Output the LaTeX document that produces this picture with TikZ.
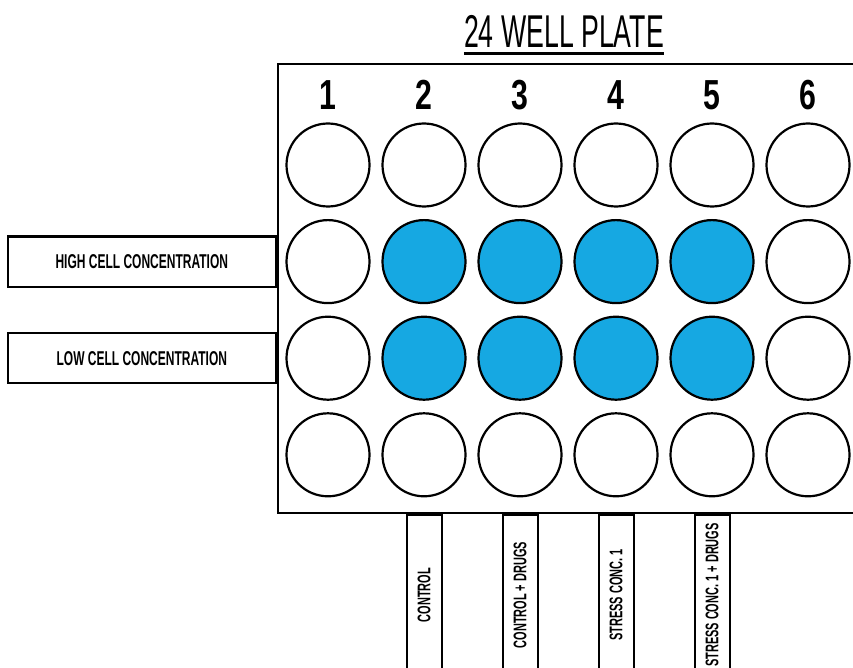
\documentclass[tikz,border=0pt]{standalone}
\usepackage{fontspec}
\newfontfamily\labelfont[FakeStretch=0.6]{Liberation Sans}
\newfontfamily\titlefont[FakeStretch=0.58]{Liberation Sans}
\newfontfamily\numfont[FakeStretch=0.72]{Liberation Sans}
\usetikzlibrary{calc}
\definecolor{wellblue}{HTML}{16A8E2}

\begin{document}
\begin{tikzpicture}[
      x=1pt, y=-1pt,
      plate/.style={rectangle, draw, line width=2.2pt, minimum width=602pt, minimum height=449pt, inner sep=0pt},
      well/.style={circle, draw, line width=2.2pt, minimum size=83pt, inner sep=0pt, fill=white},
      filled/.style={well, fill=wellblue},
      lab/.style={rectangle, draw, line width=2.2pt, minimum width=268pt, minimum height=50pt, font=\labelfont\bfseries\fontsize{20}{20}\selectfont},
      strip/.style={rectangle, draw, line width=2pt, rotate=90, anchor=east, minimum width=160pt, minimum height=35pt, inner sep=0pt, font=\labelfont\bfseries\fontsize{18.3}{18}\selectfont},
      colnum/.style={inner sep=0pt, font=\numfont\bfseries\fontsize{42}{42}\selectfont}
    ]
    \useasboundingbox (0,0) rectangle (853,668);

    % title
    \node[inner sep=0pt, font=\titlefont\fontsize{46}{46}\selectfont] (title) at (564,31.5) {24 WELL PLATE};
    \draw[line width=3pt] ($(title.south west)+(0,6)$) -- ($(title.south east)+(0,6)$);

    % plate and wells
    \node[plate] (plate) at (579,288.5) {};
    \foreach \c in {1,...,6}
      \node[colnum] (n-\c) at ({328+96*(\c-1)},95) {\c};
    \foreach \r in {1,...,4}
      \foreach \c in {1,...,6} {
        \def\kind{well}
        \ifnum\r>1 \ifnum\r<4 \ifnum\c>1 \ifnum\c<6 \def\kind{filled}\fi\fi\fi\fi
        \node[\kind] (w-\r-\c) at ({328+96*(\c-1)},{165+96.6*(\r-1)}) {};
      }

    % row labels
    \node[lab, anchor=east] (high) at (plate.west |- w-2-1) {HIGH CELL CONCENTRATION};
    \node[lab, anchor=east] (low) at (plate.west |- w-3-1) {LOW CELL CONCENTRATION};

    % column labels
    \foreach \c/\txt in {2/CONTROL, 3/CONTROL + DRUGS, 4/STRESS CONC. 1, 5/STRESS CONC. 1 + DRUGS}
      \node[strip] (s-\c) at (w-4-\c |- plate.south) {\txt};
  \end{tikzpicture}
\end{document}
